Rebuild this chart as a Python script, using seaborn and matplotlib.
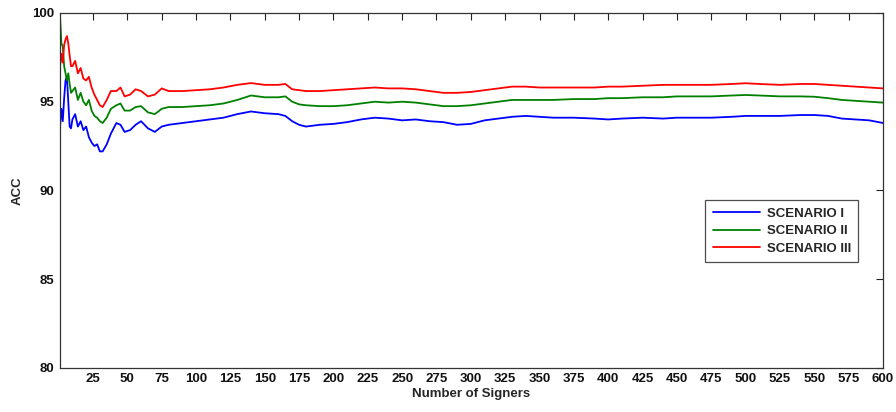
import pandas as pd
import matplotlib
matplotlib.use('Agg')
import matplotlib.pyplot as plt
import seaborn as sns

signers = [1, 2, 3, 4, 5, 6, 7, 8, 9, 10, 12, 14, 16, 18, 20, 22, 24, 26, 28, 30,
           32, 35, 38, 42, 45, 48, 52, 56, 60, 65, 70, 75, 80, 90, 100, 110, 120,
           130, 140, 150, 160, 165, 170, 175, 180, 190, 200, 210, 220, 230, 240,
           250, 260, 270, 280, 290, 300, 310, 320, 330, 340, 350, 360, 375, 390,
           400, 410, 425, 440, 450, 460, 475, 490, 500, 510, 525, 540, 550, 560,
           570, 580, 590, 600]

acc_s1 = [93.6, 94.6, 93.9, 95.2, 96.2, 96.4, 95.0, 93.6, 93.5, 94.0, 94.3, 93.6,
          93.9, 93.4, 93.6, 93.0, 92.7, 92.5, 92.6, 92.2, 92.2, 92.6, 93.2, 93.8,
          93.7, 93.3, 93.4, 93.7, 93.9, 93.5, 93.3, 93.6, 93.7, 93.8, 93.9, 94.0,
          94.1, 94.3, 94.45, 94.35, 94.3, 94.2, 93.9, 93.7, 93.6, 93.7, 93.75,
          93.85, 94.0, 94.1, 94.05, 93.95, 94.0, 93.9, 93.85, 93.7, 93.75, 93.95,
          94.05, 94.15, 94.2, 94.15, 94.1, 94.1, 94.05, 94.0, 94.05, 94.1, 94.05,
          94.1, 94.1, 94.1, 94.15, 94.2, 94.2, 94.2, 94.25, 94.25, 94.2, 94.05,
          94.0, 93.95, 93.8]

acc_s2 = [99.8, 98.3, 98.1, 97.0, 96.6, 96.2, 96.6, 96.0, 95.5, 95.6, 95.8, 95.1,
          95.5, 95.0, 94.8, 95.1, 94.5, 94.2, 94.1, 93.9, 93.8, 94.1, 94.6, 94.8,
          94.9, 94.5, 94.5, 94.7, 94.75, 94.4, 94.3, 94.6, 94.7, 94.7, 94.75, 94.8,
          94.9, 95.1, 95.35, 95.25, 95.25, 95.3, 95.0, 94.85, 94.8, 94.75, 94.75,
          94.8, 94.9, 95.0, 94.95, 95.0, 94.95, 94.85, 94.75, 94.75, 94.8, 94.9,
          95.0, 95.1, 95.1, 95.1, 95.1, 95.15, 95.15, 95.2, 95.2, 95.25, 95.25,
          95.3, 95.3, 95.3, 95.35, 95.38, 95.35, 95.3, 95.3, 95.28, 95.2, 95.1,
          95.05, 95.0, 94.95]

acc_s3 = [97.0, 97.7, 97.2, 98.2, 98.5, 98.7, 98.3, 97.6, 97.0, 97.0, 97.3, 96.6,
          96.9, 96.3, 96.2, 96.4, 95.8, 95.4, 95.1, 94.8, 94.7, 95.1, 95.6, 95.6,
          95.8, 95.3, 95.4, 95.7, 95.6, 95.3, 95.4, 95.75, 95.6, 95.6, 95.65, 95.7,
          95.8, 95.95, 96.05, 95.95, 95.95, 96.0, 95.7, 95.65, 95.6, 95.6, 95.65,
          95.7, 95.75, 95.8, 95.75, 95.75, 95.7, 95.6, 95.5, 95.5, 95.55, 95.65,
          95.75, 95.85, 95.85, 95.8, 95.8, 95.8, 95.8, 95.85, 95.85, 95.9, 95.95,
          95.95, 95.95, 95.95, 96.0, 96.04, 96.0, 95.95, 96.0, 96.0, 95.95, 95.9,
          95.85, 95.8, 95.75]

scenarios = ['SCENARIO I', 'SCENARIO II', 'SCENARIO III']
colors = ['#0000ff', '#008000', '#ff0000']
xticks = list(range(25, 601, 25))
yticks = [80, 85, 90, 95, 100]

# long form table for seaborn
df = pd.concat([
    pd.DataFrame({'Signers': signers, 'ACC': acc, 'Scenario': name})
    for name, acc in zip(scenarios, [acc_s1, acc_s2, acc_s3])
], ignore_index=True)

sns.set_style('white')
plt.rcParams['font.family'] = ['Liberation Sans', 'DejaVu Sans']
plt.rcParams['font.weight'] = 'bold'

fig = plt.figure(figsize=(8.96, 4.12), dpi=100)
ax = fig.add_axes([0.067, 0.107, 0.9185, 0.8615])

sns.lineplot(data=df, x='Signers', y='ACC', hue='Scenario', hue_order=scenarios,
             palette=colors, linewidth=1.3, ax=ax)

ax.set_xlim(1, 600)
ax.set_ylim(80, 100)
ax.set_xticks(xticks)
ax.set_yticks(yticks)
ax.tick_params(direction='in', length=5, width=0.8, top=True, right=True,
               labelsize=9.5, colors='#222222', labelcolor='#111111', pad=4)
for s in ax.spines.values():
    s.set_color('#333333')
    s.set_linewidth(0.9)

ax.set_xlabel('Number of Signers', fontsize=9.5, fontweight='bold', labelpad=2)
ax.set_ylabel('ACC', fontsize=9.5, fontweight='bold', labelpad=6)

leg = ax.legend(loc='upper right', bbox_to_anchor=(0.97, 0.472), borderaxespad=0,
                frameon=True, fancybox=False, handlelength=3.6, handletextpad=0.5,
                labelspacing=0.4, borderpad=0.55,
                prop={'size': 9.5, 'weight': 'bold'})
leg.get_frame().set_edgecolor('#222222')
leg.get_frame().set_linewidth(0.9)

fig.savefig('out.png', dpi=100)
